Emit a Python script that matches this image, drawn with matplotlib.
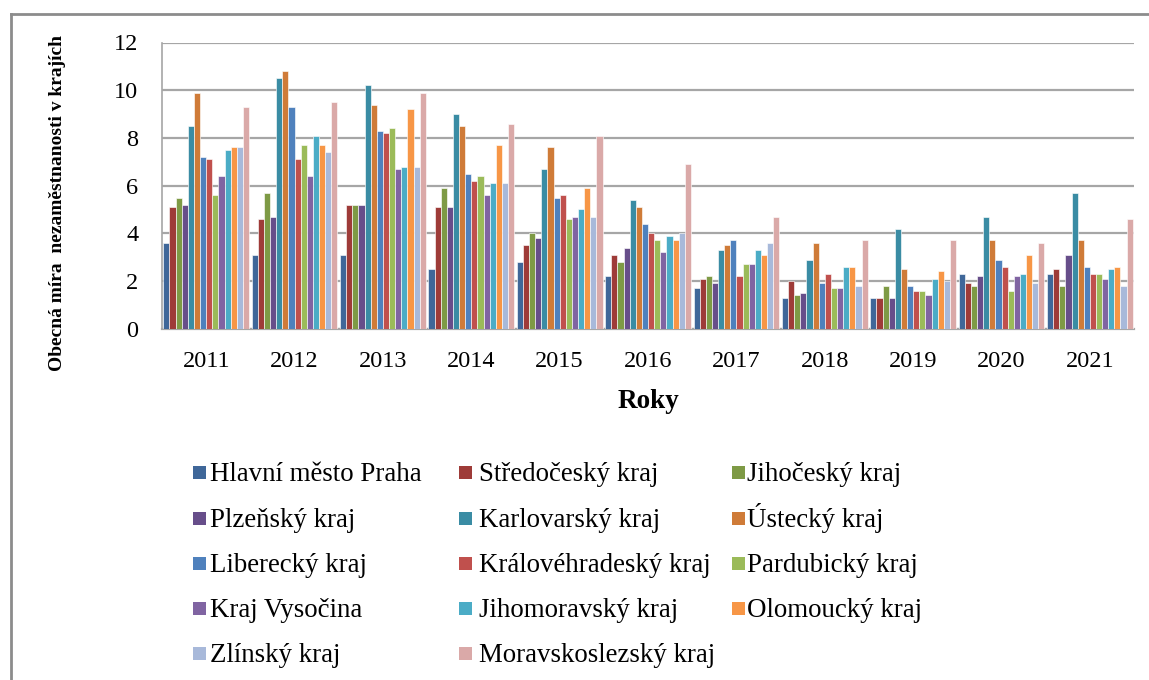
import matplotlib.pyplot as plt
import numpy as np
from matplotlib.lines import Line2D
from matplotlib.patches import Rectangle

plt.rcParams['font.family'] = ['Liberation Serif', 'DejaVu Serif']

# Data (odhad z grafu)
roky = ["2011", "2012", "2013", "2014", "2015", "2016", "2017", "2018", "2019", "2020", "2021"]

praha = [3.6, 3.1, 3.1, 2.5, 2.8, 2.2, 1.7, 1.3, 1.3, 2.3, 2.3]
stredocesky = [5.1, 4.6, 5.2, 5.1, 3.5, 3.1, 2.1, 2.0, 1.3, 1.9, 2.5]
jihocesky = [5.5, 5.7, 5.2, 5.9, 4.0, 2.8, 2.2, 1.4, 1.8, 1.8, 1.8]
plzensky = [5.2, 4.7, 5.2, 5.1, 3.8, 3.4, 1.9, 1.5, 1.3, 2.2, 3.1]
karlovarsky = [8.5, 10.5, 10.2, 9.0, 6.7, 5.4, 3.3, 2.9, 4.2, 4.7, 5.7]
ustecky = [9.9, 10.8, 9.4, 8.5, 7.6, 5.1, 3.5, 3.6, 2.5, 3.7, 3.7]
liberecky = [7.2, 9.3, 8.3, 6.5, 5.5, 4.4, 3.7, 1.9, 1.8, 2.9, 2.6]
kralovehradecky = [7.1, 7.1, 8.2, 6.2, 5.6, 4.0, 2.2, 2.3, 1.6, 2.6, 2.3]
pardubicky = [5.6, 7.7, 8.4, 6.4, 4.6, 3.7, 2.7, 1.7, 1.6, 1.6, 2.3]
vysocina = [6.4, 6.4, 6.7, 5.6, 4.7, 3.2, 2.7, 1.7, 1.4, 2.2, 2.1]
jihomoravsky = [7.5, 8.1, 6.8, 6.1, 5.0, 3.9, 3.3, 2.6, 2.1, 2.3, 2.5]
olomoucky = [7.6, 7.7, 9.2, 7.7, 5.9, 3.7, 3.1, 2.6, 2.4, 3.1, 2.6]
zlinsky = [7.6, 7.4, 6.8, 6.1, 4.7, 4.0, 3.6, 1.8, 2.0, 1.9, 1.8]
moravskoslezsky = [9.3, 9.5, 9.9, 8.6, 8.1, 6.9, 4.7, 3.7, 3.7, 3.6, 4.6]

kraje = ["Hlavní město Praha", "Středočeský kraj", "Jihočeský kraj",
         "Plzeňský kraj", "Karlovarský kraj", "Ústecký kraj",
         "Liberecký kraj", "Královéhradeský kraj", "Pardubický kraj",
         "Kraj Vysočina", "Jihomoravský kraj", "Olomoucký kraj",
         "Zlínský kraj", "Moravskoslezský kraj"]
hodnoty = [praha, stredocesky, jihocesky, plzensky, karlovarsky, ustecky,
           liberecky, kralovehradecky, pardubicky, vysocina, jihomoravsky,
           olomoucky, zlinsky, moravskoslezsky]
barvy = ["#3F6799", "#9E3B38", "#7E9A45", "#674E8A", "#3A8CA4", "#CF7B38",
         "#4F81BD", "#C0504D", "#9BBB59", "#8064A2", "#4BACC6", "#F79646",
         "#A8B9DA", "#DAA9A8"]

W, H = 1149, 680
fig = plt.figure(figsize=(W / 100, H / 100), dpi=100)
ax = fig.add_axes([0.141, 0.5166, 0.846, 0.4209])

x = np.arange(len(roky))
n = len(kraje)
sirka = 0.97 / n
for i in range(n):
    pos = x - 0.485 + sirka * (i + 0.5)
    ax.bar(pos, hodnoty[i], width=sirka, color=barvy[i],
           edgecolor=(1, 1, 1, 0.7), linewidth=0.6, label=kraje[i], zorder=3)

ax.set_xlim(-0.5, len(roky) - 0.5)
ax.set_ylim(0, 12)
ax.set_yticks(np.arange(0, 13, 2))
ax.set_xticks(x)
ax.set_xticklabels(roky)
ax.tick_params(axis='x', length=0, pad=16, labelsize=17.5)
ax.tick_params(axis='y', length=0, pad=17, labelsize=17.5)
ax.grid(axis='y', color='#A6A6A6', linewidth=1.6, zorder=0)
for s in ['top', 'right']:
    ax.spines[s].set_visible(False)
ax.spines['left'].set_color('#A6A6A6')
ax.spines['bottom'].set_color('#A6A6A6')
ax.spines['left'].set_linewidth(1.2)
ax.spines['bottom'].set_linewidth(1.6)

ax.set_xlabel("Roky", fontsize=19.5, fontweight='bold', labelpad=12)
fig.text(58 / W, 1 - 203 / H, "Obecná míra  nezaměstnanosti v krajích",
         rotation=90, ha='center', va='center', fontsize=14, fontweight='bold')

# legenda po radcich (3 sloupce)
znacka_x = [193, 459, 732]
text_x = [210, 479, 747]
radky_y = [472, 518, 563, 608, 653]
for k in range(n):
    r, c = k // 3, k % 3
    yc = radky_y[r]
    fig.add_artist(Rectangle((znacka_x[c] / W, 1 - (yc + 6.5) / H), 13 / W, 13 / H,
                             transform=fig.transFigure, facecolor=barvy[k],
                             edgecolor='none'))
    fig.text(text_x[c] / W, 1 - (yc + 9) / H, kraje[k], fontsize=19.4,
             ha='left', va='baseline')

# ramecek
fig.add_artist(Line2D([11 / W, 11 / W], [0, 1 - 14 / H], color='#8C8C8C', lw=2))
fig.add_artist(Line2D([11 / W, 1], [1 - 14 / H, 1 - 14 / H], color='#8C8C8C', lw=2))

plt.savefig("out.png", dpi=100)
